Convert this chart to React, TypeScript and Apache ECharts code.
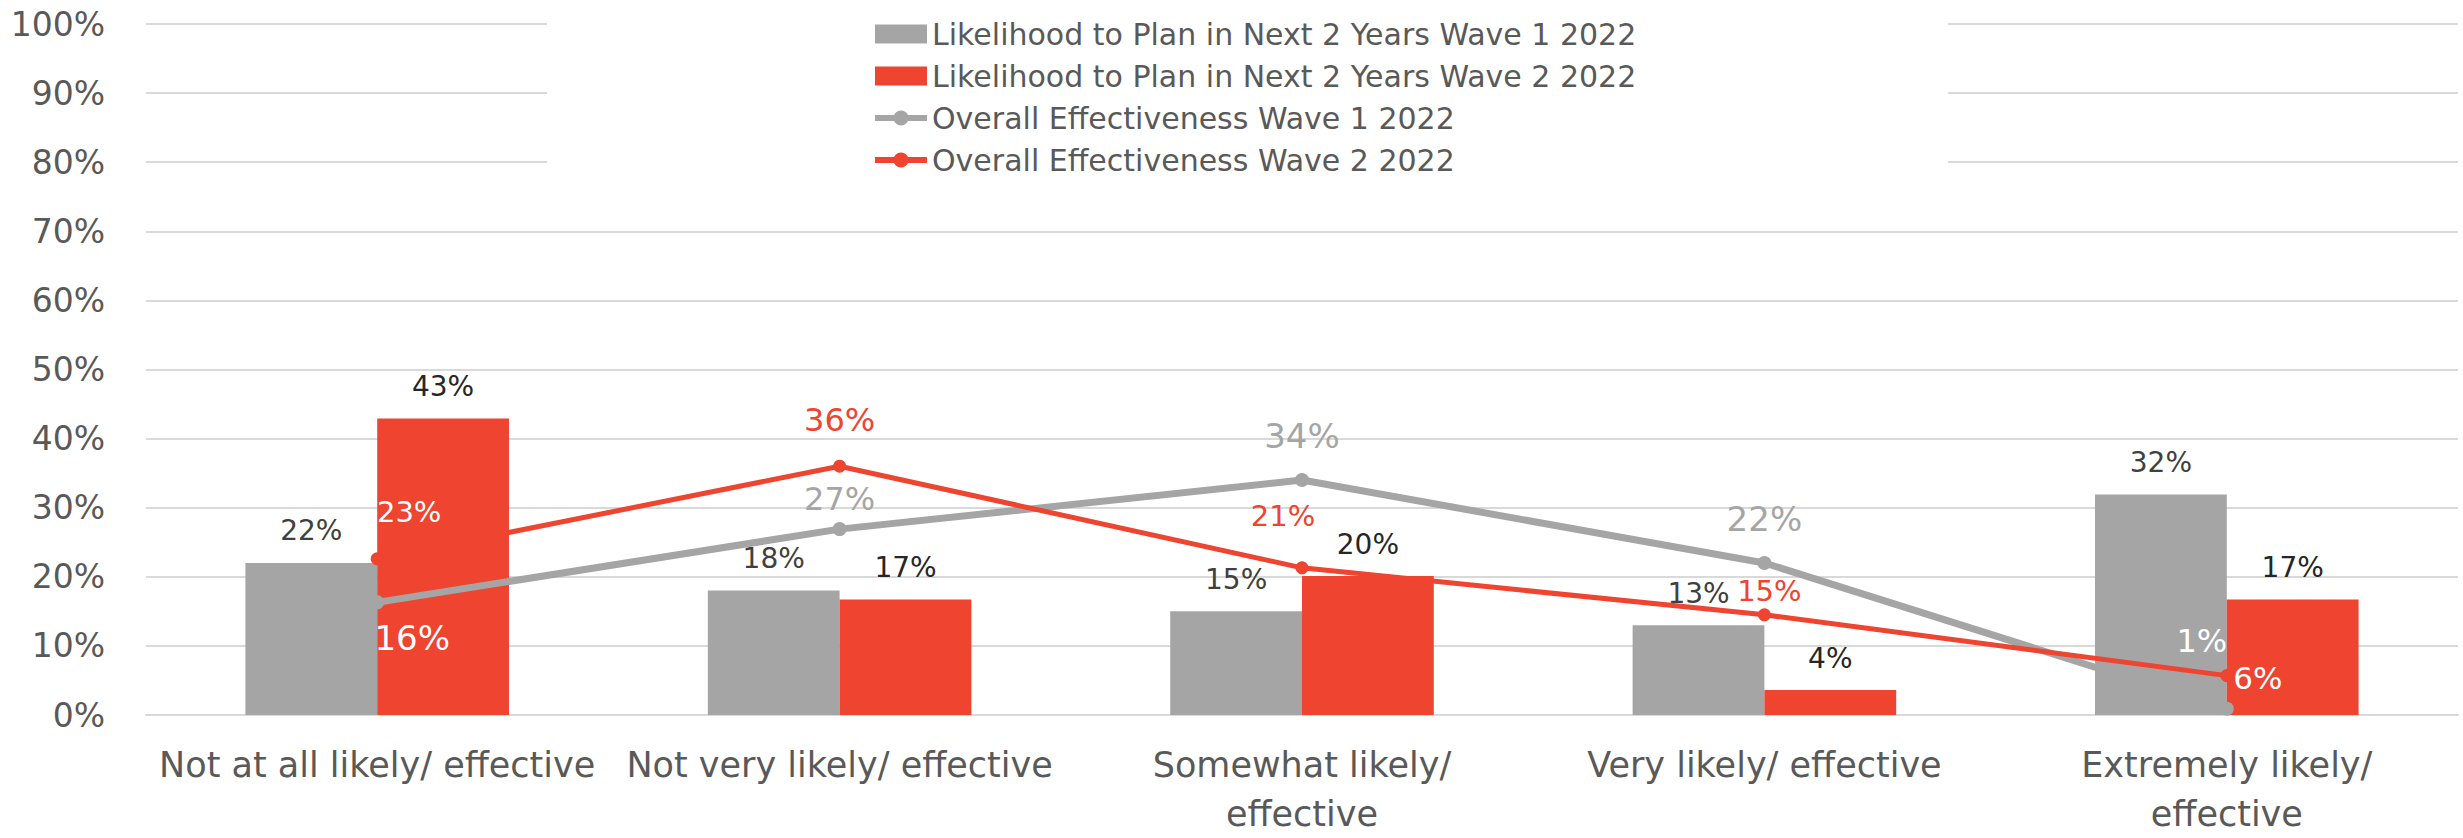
import React, { useEffect, useRef } from "react";
import * as echarts from "echarts";

const categories = [
  "Not at all likely/ effective",
  "Not very likely/ effective",
  "Somewhat likely/\neffective",
  "Very likely/ effective",
  "Extremely likely/\neffective",
];
const likelihoodWave1 = [22, 18, 15, 13, 31.9];
const likelihoodWave2 = [42.9, 16.7, 20.1, 3.6, 16.7];
const effectivenessWave1 = [16.3, 26.9, 34, 22, 0.9];
const effectivenessWave2 = [22.6, 36, 21.3, 14.5, 5.7];
const yTicks = [0, 10, 20, 30, 40, 50, 60, 70, 80, 90, 100];

const GRAY = "#A5A5A5";
const RED = "#EE4430";
const TEXT = "#595959";
const FONT = "'DejaVu Sans'";

// label placement (offset from point, colour, size)
const eff1Labels = [
  { dx: 35, dy: 36, color: "#FFFFFF", size: 34 },
  { dx: 0, dy: -30, color: GRAY, size: 32 },
  { dx: 0, dy: -44, color: GRAY, size: 34 },
  { dx: 0, dy: -44, color: GRAY, size: 34 },
  { dx: -25, dy: -68, color: "#FFFFFF", size: 32 },
];
const eff2Labels = [
  { dx: 32, dy: -47, color: "#FFFFFF", size: 29 },
  { dx: 0, dy: -46, color: RED, size: 32 },
  { dx: -19, dy: -52, color: RED, size: 29 },
  { dx: 5, dy: -24, color: RED, size: 29 },
  { dx: 31, dy: 2, color: "#FFFFFF", size: 31 },
];

function lineData(
  values: number[],
  labels: { dx: number; dy: number; color: string; size: number }[]
) {
  return values.map((v, i) => ({
    value: v,
    label: {
      show: true,
      position: "inside",
      offset: [labels[i].dx, labels[i].dy],
      color: labels[i].color,
      fontSize: labels[i].size,
      fontFamily: FONT,
      formatter: (p: any) => `${Math.round(p.value)}%`,
    },
  }));
}

export default function App() {
  const ref = useRef<HTMLDivElement>(null);
  useEffect(() => {
    if (!ref.current) return;
    const chart = echarts.init(ref.current, undefined, { renderer: "svg" });
    const barLabel = (color: string) => ({
      show: true,
      position: "top",
      distance: 18,
      color,
      fontSize: 28,
      fontFamily: FONT,
      formatter: (p: any) => `${Math.round(p.value)}%`,
    });
    chart.setOption({
      animation: false,
      textStyle: { fontFamily: FONT },
      grid: { left: 146, right: 5, top: 24, bottom: 119, containLabel: false },
      graphic: [
        {
          type: "rect",
          z: 1,
          shape: { x: 547, y: 0, width: 1401, height: 196 },
          style: { fill: "#FFFFFF" },
        },
      ],
      legend: {
        orient: "vertical",
        left: 867,
        top: 14,
        itemWidth: 52,
        itemHeight: 19,
        itemGap: 12,
        z: 5,
        lineStyle: { width: 6 },
        textStyle: { color: TEXT, fontSize: 30, fontFamily: FONT },
        data: [
          { name: "Likelihood to Plan in Next 2 Years Wave 1 2022", icon: "rect" },
          { name: "Likelihood to Plan in Next 2 Years Wave 2 2022", icon: "rect" },
          { name: "Overall Effectiveness Wave 1 2022" },
          { name: "Overall Effectiveness Wave 2 2022" },
        ],
      },
      xAxis: {
        type: "category",
        data: categories,
        axisTick: { show: false },
        axisLine: { lineStyle: { color: "#D9D9D9", width: 2 } },
        axisLabel: {
          color: TEXT,
          fontSize: 35,
          fontFamily: FONT,
          lineHeight: 49,
          margin: 25,
          interval: 0,
        },
      },
      yAxis: {
        type: "value",
        min: yTicks[0],
        max: yTicks[yTicks.length - 1],
        interval: 10,
        axisLabel: {
          color: TEXT,
          fontSize: 33,
          fontFamily: FONT,
          margin: 41,
          formatter: (v: number) => `${v}%`,
        },
        splitLine: { lineStyle: { color: "#D9D9D9", width: 2 } },
        axisLine: { show: false },
        axisTick: { show: false },
      },
      series: [
        {
          name: "Likelihood to Plan in Next 2 Years Wave 1 2022",
          type: "bar",
          data: likelihoodWave1,
          itemStyle: { color: GRAY },
          barGap: "0%",
          barCategoryGap: "43%",
          label: barLabel("#404040"),
          z: 2,
        },
        {
          name: "Likelihood to Plan in Next 2 Years Wave 2 2022",
          type: "bar",
          data: likelihoodWave2,
          itemStyle: { color: RED },
          barGap: "0%",
          barCategoryGap: "43%",
          label: barLabel("#262626"),
          z: 2,
        },
        {
          name: "Overall Effectiveness Wave 1 2022",
          type: "line",
          data: lineData(effectivenessWave1, eff1Labels),
          symbol: "circle",
          symbolSize: 14,
          itemStyle: { color: GRAY },
          lineStyle: { color: GRAY, width: 7 },
          z: 3,
        },
        {
          name: "Overall Effectiveness Wave 2 2022",
          type: "line",
          data: lineData(effectivenessWave2, eff2Labels),
          symbol: "circle",
          symbolSize: 13,
          itemStyle: { color: RED },
          lineStyle: { color: RED, width: 5 },
          z: 4,
        },
      ],
    });
    return () => chart.dispose();
  }, []);
  return (
    <div
      ref={ref}
      style={{ position: "absolute", left: 0, top: 0, width: 2463, height: 838 }}
    />
  );
}
